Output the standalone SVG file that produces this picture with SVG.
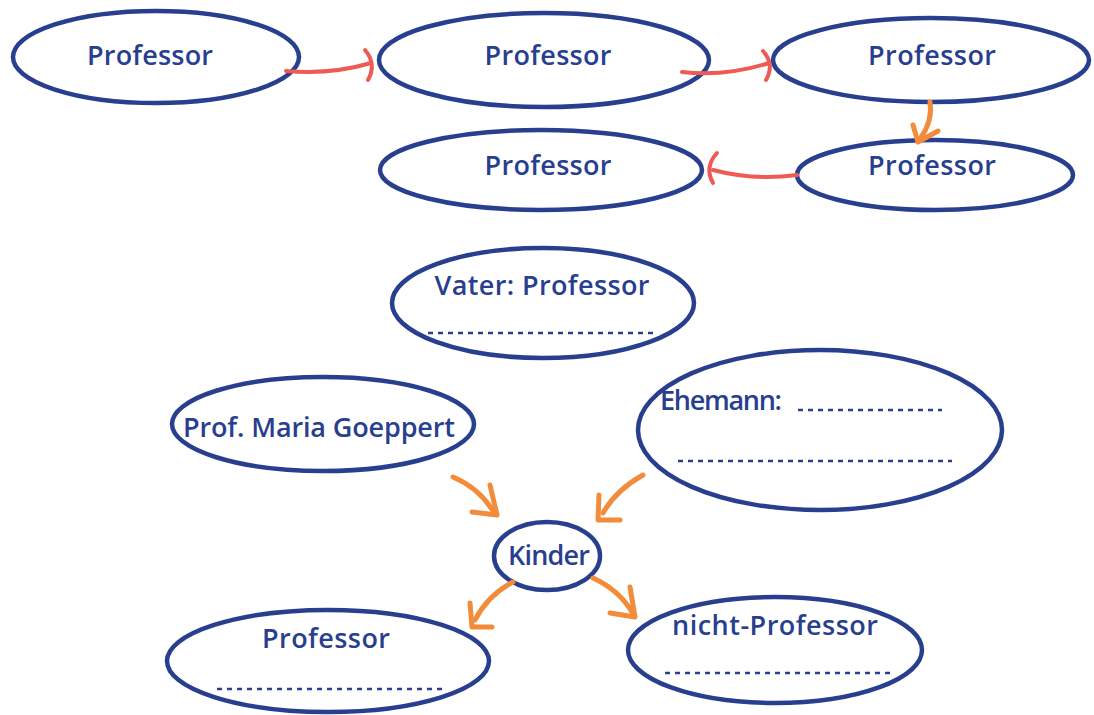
<svg xmlns="http://www.w3.org/2000/svg" width="1094" height="715" viewBox="0 0 1094 715">
<style>
.node{fill:none;stroke:#283f8f;stroke-width:4.5}
.lbl{font-family:"Open Sans","Liberation Sans",sans-serif;font-size:27px;font-weight:600;fill:#283f8f;text-anchor:middle}
.lbls{font-family:"Open Sans","Liberation Sans",sans-serif;font-size:27px;font-weight:600;fill:#283f8f}
.dash{stroke:#283f8f;stroke-width:2.5;stroke-dasharray:5,5;fill:none}
.red{stroke:#ef5a55;stroke-width:4;fill:none;stroke-linecap:round;stroke-linejoin:round}
.org{stroke:#f28c3a;stroke-width:5;fill:none;stroke-linecap:round;stroke-linejoin:round}
</style>
<rect width="1094" height="715" fill="#ffffff"/>
<g id="n1"><ellipse class="node" cx="156" cy="57" rx="143" ry="46"/><text class="lbl" x="150" y="65" textLength="126">Professor</text></g>
<g id="n2"><ellipse class="node" cx="544" cy="60" rx="165" ry="47"/><text class="lbl" x="548" y="65" textLength="127">Professor</text></g>
<g id="n3"><ellipse class="node" cx="931" cy="60" rx="158" ry="42"/><text class="lbl" x="932" y="65" textLength="128">Professor</text></g>
<g id="n4"><ellipse class="node" cx="541" cy="170" rx="161" ry="40"/><text class="lbl" x="548" y="175" textLength="127">Professor</text></g>
<g id="n5"><ellipse class="node" cx="935" cy="175" rx="138" ry="35"/><text class="lbl" x="932" y="175" textLength="128">Professor</text></g>
<g id="vater"><ellipse class="node" cx="543" cy="303" rx="151" ry="55"/><text class="lbl" x="542" y="295" textLength="215">Vater: Professor</text><line class="dash" x1="428" y1="333" x2="655" y2="333"/></g>
<g id="goeppert"><ellipse class="node" cx="323" cy="424" rx="151" ry="47"/><text class="lbl" x="319" y="437" textLength="272">Prof. Maria Goeppert</text></g>
<g id="ehemann"><ellipse class="node" cx="820" cy="430" rx="182" ry="80"/><text class="lbls" x="660" y="410" textLength="122">Ehemann:</text><line class="dash" x1="798" y1="410" x2="942" y2="410"/><line class="dash" x1="678" y1="461" x2="952" y2="461"/></g>
<g id="kinder"><ellipse class="node" cx="547" cy="556" rx="53" ry="34"/><text class="lbl" x="549" y="565" textLength="82">Kinder</text></g>
<g id="prof"><ellipse class="node" cx="328" cy="661" rx="161" ry="51"/><text class="lbl" x="326" y="648" textLength="128">Professor</text><line class="dash" x1="217" y1="689" x2="443" y2="689"/></g>
<g id="nicht"><ellipse class="node" cx="775" cy="650" rx="147" ry="53"/><text class="lbl" x="775" y="635" textLength="206">nicht-Professor</text><line class="dash" x1="665" y1="673" x2="892" y2="673"/></g>
<g id="connectors">
<path class="red" d="M286,71 Q330,75 371,63"/>
<path class="red" d="M365,50 Q377,64 368,80"/>
<path class="red" d="M682,72 Q725,77 769,63"/>
<path class="red" d="M763,51 Q775,64 766,80"/>
<path class="red" d="M797,175 Q755,181 713,170"/>
<path class="red" d="M717,153 Q704,167 713,183"/>
<path class="org" d="M930,102 Q933,121 920,139"/>
<path class="org" d="M913,125 L918,142 L938,131"/>
<path class="org" d="M453,477 Q479,488 493,511"/>
<path class="org" d="M490,485 L497,515 L472,512"/>
<path class="org" d="M643,475 Q616,490 603,513"/>
<path class="org" d="M599,495 L598,520 L620,520"/>
<path class="org" d="M513,582 Q488,595 475,620"/>
<path class="org" d="M470,603 L472,627 L492,627"/>
<path class="org" d="M593,578 Q619,590 632,612"/>
<path class="org" d="M630,587 L635,617 L610,613"/>
</g>
</svg>
